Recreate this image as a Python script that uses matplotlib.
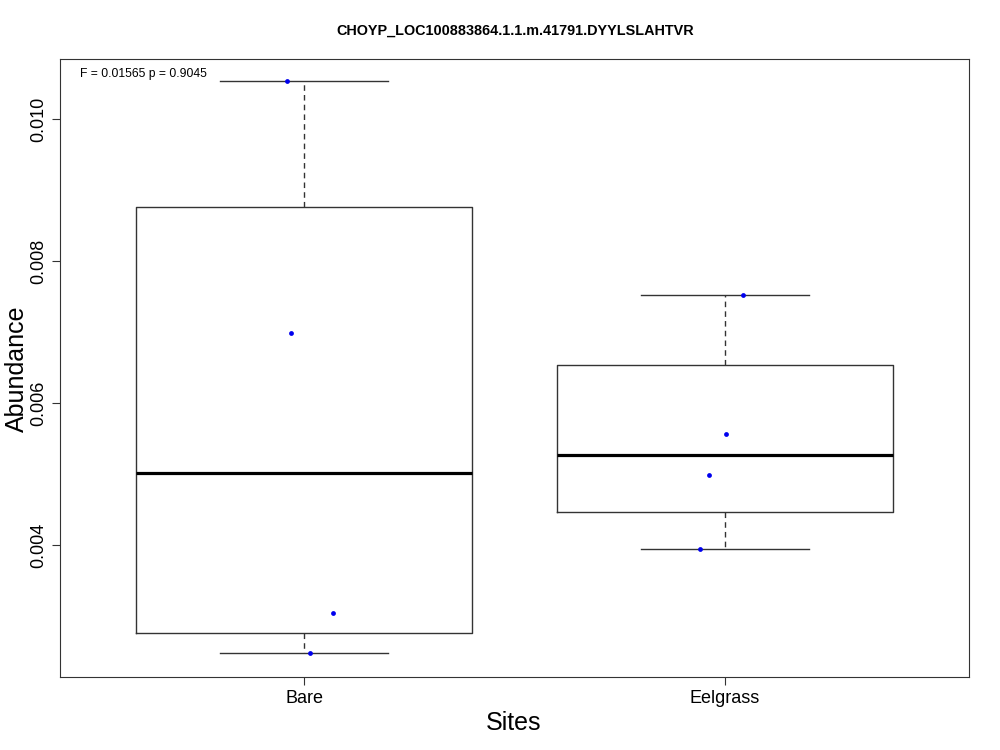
import numpy as np
import matplotlib
matplotlib.use("Agg")
import matplotlib.pyplot as plt

plt.rcParams['font.family'] = ['Liberation Sans', 'DejaVu Sans']

sites = ["Bare", "Eelgrass"]
bare = [0.01054, 0.006986, 0.003042, 0.002479]
eelgrass = [0.007521, 0.005563, 0.004986, 0.003944]
# horizontal jitter used for the points
bare_jit = [-0.040, -0.031, 0.069, 0.014]
eel_jit = [0.043, 0.002, -0.038, -0.059]
title = "CHOYP_LOC100883864.1.1.m.41791.DYYLSLAHTVR"
stat_text = "F = 0.01565 p = 0.9045"


def fivenum(v):
    # Tukey hinges like R's boxplot
    v = np.sort(np.asarray(v))
    n = len(v)
    n4 = np.floor((n + 3) / 2) / 2
    d = np.array([1, n4, (n + 1) / 2, n + 1 - n4, n]) - 1
    return 0.5 * (v[np.floor(d).astype(int)] + v[np.ceil(d).astype(int)])


stats = []
for name, vals in zip(sites, [bare, eelgrass]):
    f = fivenum(vals)
    stats.append(dict(label=name, whislo=f[0], q1=f[1], med=f[2], q3=f[3], whishi=f[4], fliers=[]))

fig = plt.figure(figsize=(10, 7.5), dpi=100)
ax = fig.add_axes([0.06, 0.0973, 0.909, 0.824])

ax.bxp(stats, positions=[1, 2], widths=0.8, showfliers=False,
       boxprops=dict(color="#333333", linewidth=1.0),
       medianprops=dict(color="black", linewidth=2.3),
       whiskerprops=dict(color="#333333", linewidth=1.0, linestyle=(0, (4, 3))),
       capprops=dict(color="#333333", linewidth=1.0), capwidths=0.4)

for pos, vals, jit in [(1, bare, bare_jit), (2, eelgrass, eel_jit)]:
    ax.scatter(pos + np.array(jit), vals, s=12, color="#0000ee", zorder=3, linewidths=0)

ax.set_xlim(0.42, 2.58)
ax.set_ylim(0.002141, 0.010845)
ax.set_yticks([0.004, 0.006, 0.008, 0.010])
ax.set_yticklabels(["0.004", "0.006", "0.008", "0.010"], rotation=90, va="center", fontsize=13)
ax.set_xticks([1, 2])
ax.set_xticklabels(sites, fontsize=13)
ax.tick_params(direction="out", length=6, color="#333333")
for s in ax.spines.values():
    s.set_color("#333333")

ax.text(0.022, 0.975, stat_text, transform=ax.transAxes, fontsize=8.7, va="center")
fig.text(0.515, 0.9587, title, ha="center", va="center", fontsize=10.4, fontweight="bold")
fig.text(0.017, 0.509, "Abundance", rotation=90, ha="center", va="center", fontsize=18)
fig.text(0.514, 0.036, "Sites", ha="center", va="center", fontsize=18)

fig.savefig("out.png", dpi=100)
